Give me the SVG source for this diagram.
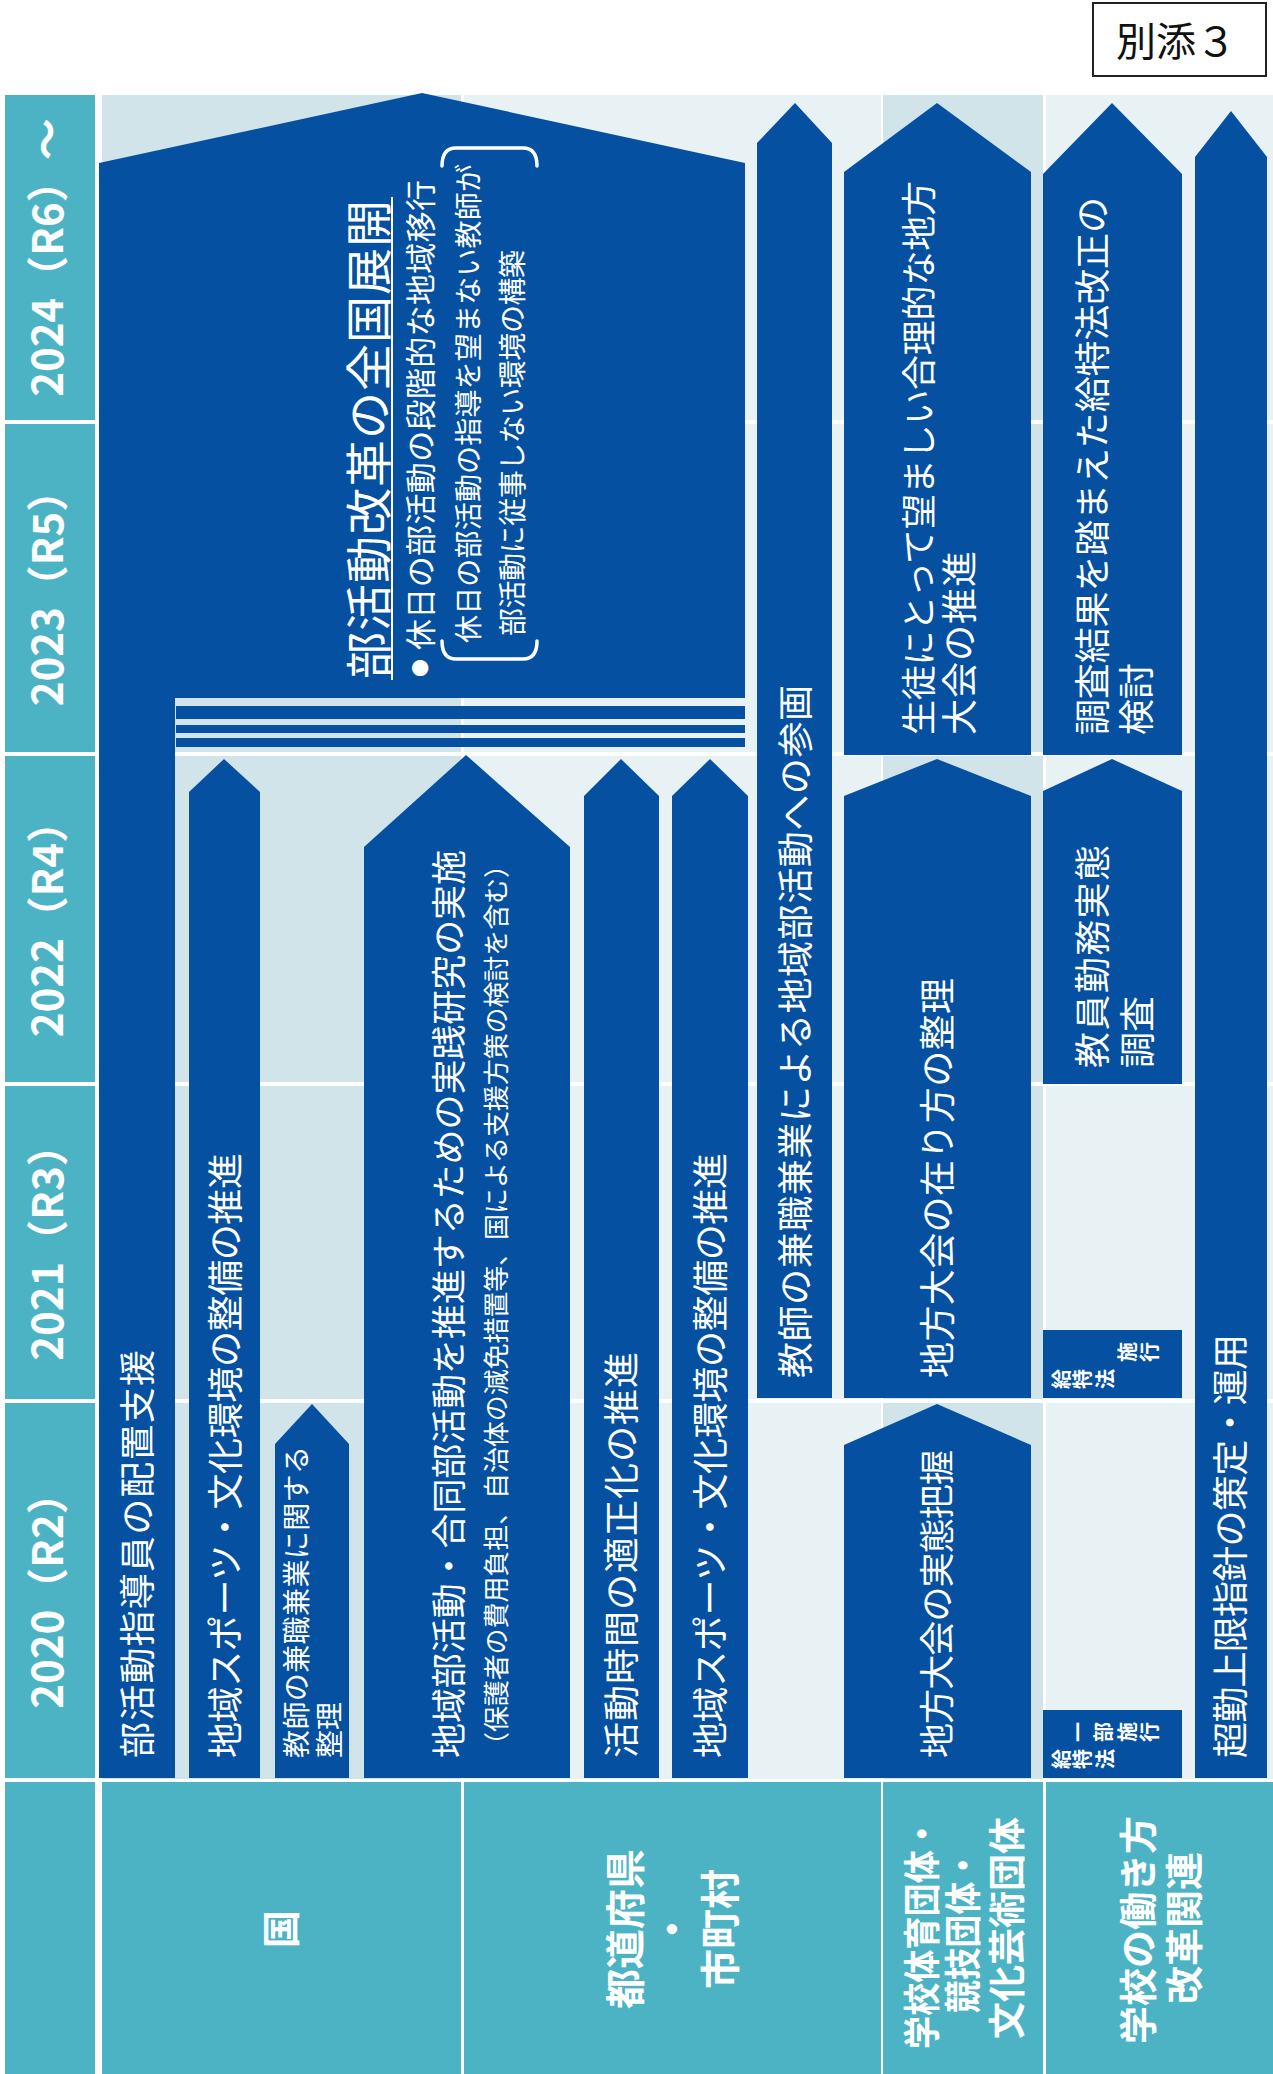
<svg xmlns="http://www.w3.org/2000/svg" width="1273" height="2074" viewBox="0 0 1273 2074">
<style>
.bl{fill:#0550A0}
.tl{fill:#4CB3C5}
.dk{fill:#D0E4EA}
.lt{fill:#E8F1F4}
.wh{fill:#FFFFFF}
text{font-family:"Noto Sans CJK JP","Noto Sans",sans-serif;fill:#FFFFFF}
.b{font-weight:700}
.f36{font-size:36px}
.f35{font-size:35px}
.f28{font-size:28px}
.f26{font-size:26px}
.yr{font-size:42px;font-weight:700;text-anchor:middle}
.cat{font-weight:700;text-anchor:middle}
.sm{font-size:20px;font-weight:700;text-anchor:middle}
</style>
<rect width="1273" height="2074" fill="#FFFFFF"/>
<g id="label-bessou">
<rect x="1093" y="3" width="173" height="73" fill="none" stroke="#222" stroke-width="2"/>
<text x="1176" y="56" font-size="40" text-anchor="middle" style="fill:#111">別添３</text>
</g>
<g id="background">
<rect class="dk" x="102" y="95" width="359" height="1684"/>
<rect class="lt" x="464" y="95" width="417" height="1684"/>
<rect class="dk" x="883" y="95" width="160" height="1684"/>
<rect class="lt" x="1046" y="95" width="227" height="1684"/>
<rect class="wh" x="102" y="420" width="1171" height="4"/>
<rect class="wh" x="102" y="752" width="1171" height="4"/>
<rect class="wh" x="102" y="1082" width="1171" height="4"/>
<rect class="wh" x="102" y="1399" width="1171" height="4"/>
</g>
<g id="years">
<g id="y2024"><rect class="tl" x="5" y="95" width="90" height="325"/><text class="yr" transform="translate(63,257.5) rotate(-90)">2024（R6）～</text></g>
<g id="y2023"><rect class="tl" x="5" y="424" width="90" height="328"/><text class="yr" transform="translate(63,588) rotate(-90)">2023（R5）</text></g>
<g id="y2022"><rect class="tl" x="5" y="756" width="90" height="326"/><text class="yr" transform="translate(63,919) rotate(-90)">2022（R4）</text></g>
<g id="y2021"><rect class="tl" x="5" y="1086" width="90" height="313"/><text class="yr" transform="translate(63,1242.5) rotate(-90)">2021（R3）</text></g>
<g id="y2020"><rect class="tl" x="5" y="1403" width="90" height="375"/><text class="yr" transform="translate(63,1590.5) rotate(-90)">2020（R2）</text></g>
</g>
<g id="categories">
<g id="cat-blank"><rect class="tl" x="5" y="1782" width="90" height="292"/></g>
<g id="cat-kuni"><rect class="tl" x="102" y="1782" width="359" height="292"/><text class="cat" font-size="38" transform="translate(295.4,1929) rotate(-90)">国</text></g>
<g id="cat-todofuken"><rect class="tl" x="464" y="1782" width="417" height="292"/>
<text class="cat" font-size="40" transform="translate(640.2,1929) rotate(-90)">都道府県</text>
<text class="cat" font-size="40" transform="translate(687.2,1929) rotate(-90)">・</text>
<text class="cat" font-size="40" transform="translate(735.2,1929) rotate(-90)">市町村</text></g>
<g id="cat-gakko"><rect class="tl" x="883" y="1782" width="160" height="292"/>
<text class="cat" font-size="37" textLength="232" lengthAdjust="spacingAndGlyphs" transform="translate(936.1,1933) rotate(-90)">学校体育団体・</text>
<text class="cat" font-size="37" textLength="164" lengthAdjust="spacingAndGlyphs" transform="translate(977.1,1931) rotate(-90)">競技団体・</text>
<text class="cat" font-size="37" transform="translate(1021.1,1928) rotate(-90)">文化芸術団体</text></g>
<g id="cat-hatarakikata"><rect class="tl" x="1046" y="1782" width="227" height="292"/>
<text class="cat" font-size="38" transform="translate(1152.4,1930) rotate(-90)">学校の働き方</text>
<text class="cat" font-size="38" transform="translate(1198.4,1928) rotate(-90)">改革関連</text></g>
</g>
<g id="connectors"></g>
<g id="node-zenkoku">
<polygon class="bl" points="99,163 422,93 745,163 745,698 175,698 175,1778 99,1778"/>
<rect class="bl" x="176" y="706" width="569" height="13"/>
<rect class="bl" x="176" y="725" width="569" height="8"/>
<rect class="bl" x="176" y="738" width="569" height="9"/>
<text font-size="47" textLength="479" transform="translate(386,679) rotate(-90)">部活動改革の全国展開</text>
<rect class="wh" x="391" y="197" width="2" height="483"/>
<text font-size="18" text-anchor="middle" transform="translate(427,668) rotate(-90)">●</text>
<text font-size="31" textLength="470" transform="translate(431.8,650) rotate(-90)">休日の部活動の段階的な地域移行</text>
<path d="M442,166 Q442,148 456,148 L523,148 Q537,148 537,166 M442,641 Q442,659 456,659 L523,659 Q537,659 537,641" fill="none" stroke="#FFFFFF" stroke-width="3.5" stroke-linecap="round"/>
<text class="f28" textLength="479" transform="translate(478.6,643) rotate(-90)">休日の部活動の指導を望まない教師が</text>
<text class="f28" textLength="386" transform="translate(522.6,636) rotate(-90)">部活動に従事しない環境の構築</text>
<text class="f36" textLength="408" transform="translate(150.7,1758) rotate(-90)">部活動指導員の配置支援</text>
</g>
<g id="node-kuni-sports">
<polygon class="bl" points="189,792 224,759 260,792 260,1778 189,1778"/>
<text class="f36" textLength="605" transform="translate(238.7,1758) rotate(-90)">地域スポーツ・文化環境の整備の推進</text>
</g>
<g id="node-kennshoku-seiri">
<polygon class="bl" points="275,1444 312,1404 349,1444 349,1778 275,1778"/>
<text class="f28" textLength="312" transform="translate(306.6,1758) rotate(-90)">教師の兼職兼業に関する</text>
<text class="f28" transform="translate(339.6,1758) rotate(-90)">整理</text>
</g>
<g id="node-jissen">
<polygon class="bl" points="364,847 466,755 570,847 570,1778 364,1778"/>
<text class="f35" textLength="908" transform="translate(462.3,1758) rotate(-90)">地域部活動・合同部活動を推進するための実践研究の実施</text>
<text class="f26" textLength="906" transform="translate(505.9,1758) rotate(-90)">（保護者の費用負担、自治体の減免措置等、国による支援方策の検討を含む）</text>
</g>
<g id="node-katsudojikan">
<polygon class="bl" points="584,796 621,759 659,796 659,1778 584,1778"/>
<text class="f36" textLength="406" transform="translate(634.7,1758) rotate(-90)">活動時間の適正化の推進</text>
</g>
<g id="node-pref-sports">
<polygon class="bl" points="672,796 710,759 748,796 748,1778 672,1778"/>
<text class="f36" textLength="605" transform="translate(723.7,1758) rotate(-90)">地域スポーツ・文化環境の整備の推進</text>
</g>
<g id="node-kennshoku-sankaku">
<polygon class="bl" points="757,143 795,103 832,143 832,1398 757,1398"/>
<text class="f36" textLength="693" transform="translate(808.7,1378) rotate(-90)">教師の兼職兼業による地域部活動への参画</text>
</g>
<g id="node-chihotaikai-suishin">
<polygon class="bl" points="844,172 937,103 1031,172 1031,755 844,755"/>
<text class="f35" textLength="554" transform="translate(932.3,735) rotate(-90)">生徒にとって望ましい合理的な地方</text>
<text class="f36" textLength="184" transform="translate(972.7,735) rotate(-90)">大会の推進</text>
</g>
<g id="node-chihotaikai-seiri">
<polygon class="bl" points="844,796 937,759 1031,796 1031,1398 844,1398"/>
<text class="f36" textLength="400" transform="translate(950.7,1378) rotate(-90)">地方大会の在り方の整理</text>
</g>
<g id="node-chihotaikai-haaku">
<polygon class="bl" points="844,1445 937,1404 1031,1445 1031,1778 844,1778"/>
<text class="f35" textLength="308" transform="translate(950.3,1758) rotate(-90)">地方大会の実態把握</text>
</g>
<g id="node-kyutokuho-kento">
<polygon class="bl" points="1043,174 1112,103 1182,174 1182,755 1043,755"/>
<text class="f36" textLength="538" transform="translate(1105.7,735) rotate(-90)">調査結果を踏まえた給特法改正の</text>
<text class="f36" transform="translate(1149.7,735) rotate(-90)">検討</text>
</g>
<g id="node-kinmu-chosa">
<polygon class="bl" points="1043,791 1112,759 1182,791 1182,1084 1043,1084"/>
<text class="f36" textLength="223" transform="translate(1105.7,1068) rotate(-90)">教員勤務実態</text>
<text class="f36" transform="translate(1150.7,1068) rotate(-90)">調査</text>
</g>
<g id="node-kyutokuho-seko">
<rect class="bl" x="1043" y="1330" width="139" height="68"/>
<text class="sm" transform="rotate(-90)" x="-1379 -1379 -1379 -1352 -1352" y="1068.6 1089.6 1112.6 1134.6 1156.6">給特法施行</text>
</g>
<g id="node-kyutokuho-ichibu">
<rect class="bl" x="1043" y="1710" width="139" height="68"/>
<text class="sm" transform="rotate(-90)" x="-1759 -1759 -1759 -1732 -1732 -1732 -1732" y="1068.6 1089.6 1112.6 1085.6 1110.6 1134.6 1156.6">給特法一部施行</text>
</g>
<g id="node-chokin">
<polygon class="bl" points="1195,157 1231,111 1267,157 1267,1778 1195,1778"/>
<text class="f36" textLength="424" transform="translate(1243.7,1758) rotate(-90)">超勤上限指針の策定・運用</text>
</g>
</svg>
